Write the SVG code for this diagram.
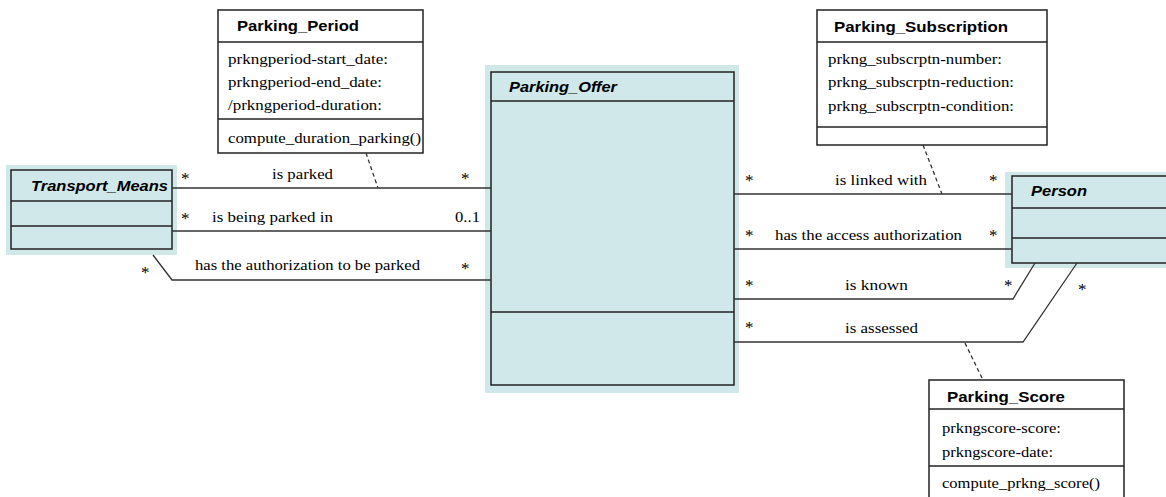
<svg xmlns="http://www.w3.org/2000/svg" width="1166" height="497" viewBox="0 0 1166 497">
<style>
.bg{fill:#ffffff}
.sh{fill:#d0e8ea;stroke:none}
.box{fill:#d0e8ea;stroke:#222;stroke-width:1.5}
.wbox{fill:#ffffff;stroke:#222;stroke-width:1.5}
.div{stroke:#222;stroke-width:1.5;fill:none}
.con{stroke:#333;stroke-width:1.3;fill:none}
.dash{stroke:#333;stroke-width:1.3;fill:none;stroke-dasharray:4 3}
.title{font-family:'Liberation Sans',Arial,sans-serif;font-weight:bold;font-size:14px;fill:#000}
.ititle{font-family:'Liberation Sans',Arial,sans-serif;font-weight:bold;font-style:italic;font-size:14px;fill:#000}
.attr{font-family:'Liberation Serif','DejaVu Serif',serif;font-size:15px;fill:#000}
.lbl{font-family:'Liberation Serif','DejaVu Serif',serif;font-size:15px;fill:#000}
.star{font-family:'Liberation Serif','DejaVu Serif',serif;font-size:17px;fill:#000}
</style>
<rect class="bg" x="0" y="0" width="1166" height="497"/>

<g id="Transport_Means">
<rect class="sh" x="6" y="165" width="171" height="90"/>
<rect class="box" x="11" y="170" width="161" height="79"/>
<line class="div" x1="11" y1="201" x2="172" y2="201"/>
<line class="div" x1="11" y1="226" x2="172" y2="226"/>
<text class="ititle" x="31" y="191" textLength="137" lengthAdjust="spacingAndGlyphs">Transport_Means</text>
</g>

<g id="Parking_Offer">
<rect class="sh" x="485" y="65" width="254" height="328"/>
<rect class="box" x="491" y="72" width="243" height="313"/>
<line class="div" x1="491" y1="101" x2="734" y2="101"/>
<line class="div" x1="491" y1="312" x2="734" y2="312"/>
<text class="ititle" x="509" y="92" textLength="108" lengthAdjust="spacingAndGlyphs">Parking_Offer</text>
</g>

<g id="Person">
<rect class="sh" x="1005" y="172" width="180" height="96"/>
<rect class="box" x="1012" y="176" width="180" height="87"/>
<line class="div" x1="1012" y1="208" x2="1166" y2="208"/>
<line class="div" x1="1012" y1="238" x2="1166" y2="238"/>
<text class="ititle" x="1031" y="196" textLength="56" lengthAdjust="spacingAndGlyphs">Person</text>
</g>

<g id="Parking_Period">
<rect class="wbox" x="218" y="10" width="205" height="143"/>
<line class="div" x1="218" y1="42" x2="423" y2="42"/>
<line class="div" x1="218" y1="119" x2="423" y2="119"/>
<text class="title" x="237" y="31" textLength="122" lengthAdjust="spacingAndGlyphs">Parking_Period</text>
<text class="attr" x="228" y="64" textLength="160" lengthAdjust="spacingAndGlyphs">prkngperiod-start_date:</text>
<text class="attr" x="228" y="87" textLength="154" lengthAdjust="spacingAndGlyphs">prkngperiod-end_date:</text>
<text class="attr" x="228" y="110" textLength="154" lengthAdjust="spacingAndGlyphs">/prkngperiod-duration:</text>
<text class="attr" x="228" y="143" textLength="193" lengthAdjust="spacingAndGlyphs">compute_duration_parking()</text>
</g>

<g id="Parking_Subscription">
<rect class="wbox" x="817" y="10" width="230" height="135"/>
<line class="div" x1="817" y1="42" x2="1047" y2="42"/>
<line class="div" x1="817" y1="127" x2="1047" y2="127"/>
<text class="title" x="834" y="32" textLength="174" lengthAdjust="spacingAndGlyphs">Parking_Subscription</text>
<text class="attr" x="828" y="64" textLength="174" lengthAdjust="spacingAndGlyphs">prkng_subscrptn-number:</text>
<text class="attr" x="828" y="87" textLength="186" lengthAdjust="spacingAndGlyphs">prkng_subscrptn-reduction:</text>
<text class="attr" x="828" y="111" textLength="186" lengthAdjust="spacingAndGlyphs">prkng_subscrptn-condition:</text>
</g>

<g id="Parking_Score">
<rect class="wbox" x="929" y="380" width="195" height="130"/>
<line class="div" x1="929" y1="409" x2="1124" y2="409"/>
<line class="div" x1="929" y1="466" x2="1124" y2="466"/>
<text class="title" x="947" y="402" textLength="118" lengthAdjust="spacingAndGlyphs">Parking_Score</text>
<text class="attr" x="942" y="433" textLength="119" lengthAdjust="spacingAndGlyphs">prkngscore-score:</text>
<text class="attr" x="942" y="457" textLength="111" lengthAdjust="spacingAndGlyphs">prkngscore-date:</text>
<text class="attr" x="942" y="488" textLength="158" lengthAdjust="spacingAndGlyphs">compute_prkng_score()</text>
</g>

<g id="connectors">
<line class="con" x1="172" y1="188" x2="491" y2="188"/>
<line class="con" x1="172" y1="231" x2="491" y2="231"/>
<polyline class="con" points="153,255 172,280 491,280"/>
<line class="dash" x1="366" y1="153" x2="378" y2="188"/>

<line class="con" x1="734" y1="194" x2="1012" y2="194"/>
<line class="con" x1="734" y1="249" x2="1012" y2="249"/>
<polyline class="con" points="734,299 1013,299 1035,263"/>
<polyline class="con" points="734,342 1023,342 1077,263"/>
<line class="dash" x1="923" y1="145" x2="942" y2="194"/>
<line class="dash" x1="965" y1="343" x2="983" y2="380"/>

<text class="star" x="181" y="184">*</text>
<text class="lbl" x="272" y="179" textLength="61" lengthAdjust="spacingAndGlyphs">is parked</text>
<text class="star" x="461" y="184">*</text>
<text class="star" x="181" y="224">*</text>
<text class="lbl" x="212" y="222" textLength="121" lengthAdjust="spacingAndGlyphs">is being parked in</text>
<text class="lbl" x="455" y="222" textLength="25" lengthAdjust="spacingAndGlyphs">0..1</text>
<text class="lbl" x="195" y="270" textLength="225" lengthAdjust="spacingAndGlyphs">has the authorization to be parked</text>
<text class="star" x="461" y="274">*</text>
<text class="star" x="141" y="278">*</text>

<text class="star" x="745" y="186">*</text>
<text class="lbl" x="835" y="185" textLength="92" lengthAdjust="spacingAndGlyphs">is linked with</text>
<text class="star" x="989" y="186">*</text>
<text class="star" x="745" y="241">*</text>
<text class="lbl" x="775" y="240" textLength="187" lengthAdjust="spacingAndGlyphs">has the access authorization</text>
<text class="star" x="989" y="241">*</text>
<text class="star" x="745" y="291">*</text>
<text class="lbl" x="845" y="290" textLength="63" lengthAdjust="spacingAndGlyphs">is known</text>
<text class="star" x="1004" y="291">*</text>
<text class="star" x="1078" y="295">*</text>
<text class="star" x="745" y="333">*</text>
<text class="lbl" x="845" y="333" textLength="73" lengthAdjust="spacingAndGlyphs">is assessed</text>
</g>
</svg>
